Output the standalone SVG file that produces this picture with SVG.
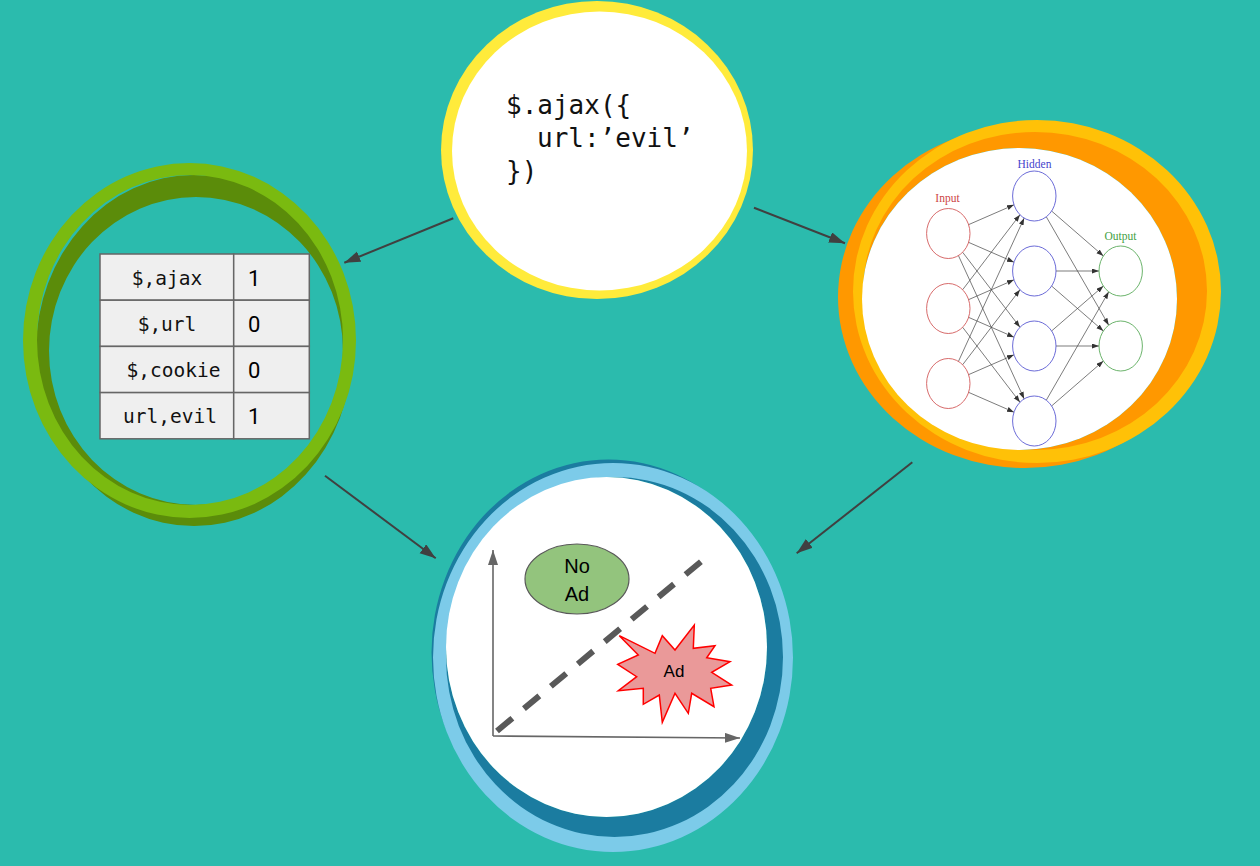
<svg xmlns="http://www.w3.org/2000/svg" width="1260" height="866" viewBox="0 0 1260 866">
<defs>
<style>
.mono{font-family:"DejaVu Sans Mono","Liberation Mono",monospace;fill:#111}
.sans{font-family:"Liberation Sans",Arial,sans-serif;fill:#000}
.num{font-family:Roboto,"Liberation Sans",Arial,sans-serif;fill:#000}
.serif{font-family:"Liberation Serif","Times New Roman",serif}
.cell{fill:#efefef;stroke:#666;stroke-width:1.5}
.conn{stroke:#404040;stroke-width:2;fill:none}
.nnl{stroke:#444;stroke-width:0.7;fill:none}
.in{fill:none;stroke:#d25a5a;stroke-width:0.9}
.hid{fill:none;stroke:#5a5ad2;stroke-width:0.9}
.out{fill:none;stroke:#5aaa5a;stroke-width:0.9}
</style>
<marker id="ah" markerUnits="userSpaceOnUse" markerWidth="17" markerHeight="12" refX="16" refY="5.5" orient="auto">
<path d="M0,0 L16,5.5 L0,11 z" fill="#404040"/>
</marker>
<marker id="nah" markerUnits="userSpaceOnUse" markerWidth="8" markerHeight="6" refX="7" refY="2.5" orient="auto">
<path d="M0,0 L7,2.5 L0,5 z" fill="#333"/>
</marker>
<marker id="axh" markerUnits="userSpaceOnUse" markerWidth="16" markerHeight="11" refX="15" refY="5" orient="auto">
<path d="M0,0 L15,5 L0,10 z" fill="#666"/>
</marker>
</defs>
<rect x="0" y="0" width="1260" height="866" fill="#2bbbad"/>

<g id="node-code">
<ellipse cx="597" cy="150" rx="156" ry="149" fill="#ffeb3b"/>
<ellipse cx="599.5" cy="151" rx="147.5" ry="139.5" fill="#fff"/>
<text class="mono" font-size="26" x="506" y="114">$.ajax({</text>
<text class="mono" font-size="26" x="537" y="147">url:’evil’</text>
<text class="mono" font-size="26" x="506" y="180">})</text>
</g>

<g id="node-table">
<path fill="#5b8c0a" fill-rule="evenodd" d="M36,350.5 a158,175.5 0 1,0 316,0 a158,175.5 0 1,0 -316,0 z M49,351 a147,154 0 1,0 294,0 a147,154 0 1,0 -294,0 z"/>
<path fill="#7aba10" fill-rule="evenodd" d="M23,340.5 a166.5,177.5 0 1,0 333,0 a166.5,177.5 0 1,0 -333,0 z M37,340 a153,165 0 1,0 306,0 a153,165 0 1,0 -306,0 z"/>
<rect class="cell" x="100" y="254" width="133.7" height="46.2"/>
<rect class="cell" x="233.7" y="254" width="75.6" height="46.2"/>
<rect class="cell" x="100" y="300.2" width="133.7" height="46.2"/>
<rect class="cell" x="233.7" y="300.2" width="75.6" height="46.2"/>
<rect class="cell" x="100" y="346.4" width="133.7" height="46.2"/>
<rect class="cell" x="233.7" y="346.4" width="75.6" height="46.2"/>
<rect class="cell" x="100" y="392.6" width="133.7" height="46.2"/>
<rect class="cell" x="233.7" y="392.6" width="75.6" height="46.2"/>
<text class="mono" font-size="19.5" x="167" y="285" text-anchor="middle">$,ajax</text>
<text class="mono" font-size="19.5" x="167" y="331" text-anchor="middle">$,url</text>
<text class="mono" font-size="19.5" x="173.5" y="377" text-anchor="middle">$,cookie</text>
<text class="mono" font-size="19.5" x="170" y="423" text-anchor="middle">url,evil</text>
<text class="num" font-size="22" x="248" y="286">1</text>
<text class="num" font-size="22" x="248" y="332">0</text>
<text class="num" font-size="22" x="248" y="378">0</text>
<text class="num" font-size="22" x="248" y="424">1</text>
</g>

<g id="node-nn">
<path fill="#ff9800" fill-rule="evenodd" d="M838,297 a187,171 0 1,0 374,0 a187,171 0 1,0 -374,0 z M862,299 a157.5,151 0 1,0 315,0 a157.5,151 0 1,0 -315,0 z"/>
<path fill="#ffc107" fill-rule="evenodd" d="M853,291.5 a184,171.5 0 1,0 368,0 a184,171.5 0 1,0 -368,0 z M863,291 a172,159 0 1,0 344,0 a172,159 0 1,0 -344,0 z"/>
<ellipse cx="1019.5" cy="299" rx="157.5" ry="151" fill="#fff"/>
<g class="nnl" marker-end="url(#nah)">
<line x1="968.6" y1="224.65" x2="1014" y2="204.85"/>
<line x1="968.6" y1="242.35" x2="1014" y2="262.15"/>
<line x1="962.64" y1="252.26" x2="1019.96" y2="327.24"/>
<line x1="958.44" y1="255.6" x2="1024.16" y2="398.9"/>
<line x1="962.64" y1="289.74" x2="1019.96" y2="214.76"/>
<line x1="968.6" y1="299.65" x2="1014" y2="279.85"/>
<line x1="968.6" y1="317.35" x2="1014" y2="337.15"/>
<line x1="962.64" y1="327.26" x2="1019.96" y2="402.24"/>
<line x1="958.44" y1="361.4" x2="1024.16" y2="218.1"/>
<line x1="962.64" y1="364.74" x2="1019.96" y2="289.76"/>
<line x1="968.6" y1="374.65" x2="1014" y2="354.85"/>
<line x1="968.6" y1="392.35" x2="1014" y2="412.15"/>
<line x1="1051.63" y1="211.05" x2="1103.37" y2="255.95"/>
<line x1="1046.3" y1="216.83" x2="1108.7" y2="325.17"/>
<line x1="1056" y1="271" x2="1099" y2="271"/>
<line x1="1051.63" y1="286.05" x2="1103.37" y2="330.95"/>
<line x1="1051.63" y1="330.95" x2="1103.37" y2="286.05"/>
<line x1="1056" y1="346" x2="1099" y2="346"/>
<line x1="1046.3" y1="400.17" x2="1108.7" y2="291.83"/>
<line x1="1051.63" y1="405.95" x2="1103.37" y2="361.05"/>
</g>
<ellipse class="in" cx="948.3" cy="233.5" rx="21.7" ry="25"/>
<ellipse class="in" cx="948.3" cy="308.5" rx="21.7" ry="25"/>
<ellipse class="in" cx="948.3" cy="383.5" rx="21.7" ry="25"/>
<ellipse class="hid" cx="1034.3" cy="196" rx="21.7" ry="25"/>
<ellipse class="hid" cx="1034.3" cy="271" rx="21.7" ry="25"/>
<ellipse class="hid" cx="1034.3" cy="346" rx="21.7" ry="25"/>
<ellipse class="hid" cx="1034.3" cy="421" rx="21.7" ry="25"/>
<ellipse class="out" cx="1120.7" cy="271" rx="21.7" ry="25"/>
<ellipse class="out" cx="1120.7" cy="346" rx="21.7" ry="25"/>
<text class="serif" font-size="11.5" x="947.5" y="202" text-anchor="middle" fill="#cc4444">Input</text>
<text class="serif" font-size="11.5" x="1034.5" y="167.5" text-anchor="middle" fill="#4444cc">Hidden</text>
<text class="serif" font-size="11.5" x="1120.5" y="240" text-anchor="middle" fill="#44a044">Output</text>
</g>

<g id="node-chart">
<path fill="#1b7ca0" fill-rule="evenodd" d="M431.5,652.5 a177,193 0 1,0 354,0 a177,193 0 1,0 -354,0 z M446,647 a160.5,170 0 1,0 321,0 a160.5,170 0 1,0 -321,0 z"/>
<path fill="#7ccbe9" fill-rule="evenodd" d="M433,657.5 a180,194.5 0 1,0 360,0 a180,194.5 0 1,0 -360,0 z M446,657 a168.5,180 0 1,0 337,0 a168.5,180 0 1,0 -337,0 z"/>
<ellipse cx="606.5" cy="647" rx="160.5" ry="170" fill="#fff"/>
<line x1="493" y1="736" x2="493" y2="550" stroke="#666" stroke-width="1.6" marker-end="url(#axh)"/>
<line x1="493" y1="736" x2="740" y2="738" stroke="#666" stroke-width="1.6" marker-end="url(#axh)"/>
<line x1="497" y1="731" x2="703" y2="560" stroke="#595959" stroke-width="6" stroke-dasharray="20 15"/>
<ellipse cx="577" cy="579" rx="52" ry="35" fill="#93c47d" stroke="#595959" stroke-width="1.2"/>
<text class="sans" font-size="20" x="577" y="573" text-anchor="middle">No</text>
<text class="sans" font-size="20" x="577" y="601" text-anchor="middle">Ad</text>
<polygon fill="#ea9999" stroke="#ff0000" stroke-width="1.5" stroke-linejoin="miter" points="694.3,625 693.3,648.3 715,645.7 706.7,657.7 730,661.7 711.7,672.3 731.7,685 710.7,688.3 714,706.7 691.7,693.3 688.3,713.3 675,693.3 662.3,722.3 659.3,695 643.3,704.3 643.3,688.3 618.3,690.7 636.7,676.7 617.7,664.3 638.3,655 619.3,635.7 655,653.3 662.3,635.7 675,650"/>
<text class="sans" font-size="17" x="674" y="677" text-anchor="middle">Ad</text>
</g>

<g id="connectors">
<line class="conn" x1="453.3" y1="218.3" x2="344.3" y2="262.7" marker-end="url(#ah)"/>
<line class="conn" x1="754" y1="207.7" x2="845" y2="243.3" marker-end="url(#ah)"/>
<line class="conn" x1="325" y1="475.7" x2="435.7" y2="558.3" marker-end="url(#ah)"/>
<line class="conn" x1="912.3" y1="462.3" x2="796.7" y2="553.3" marker-end="url(#ah)"/>
</g>
</svg>
